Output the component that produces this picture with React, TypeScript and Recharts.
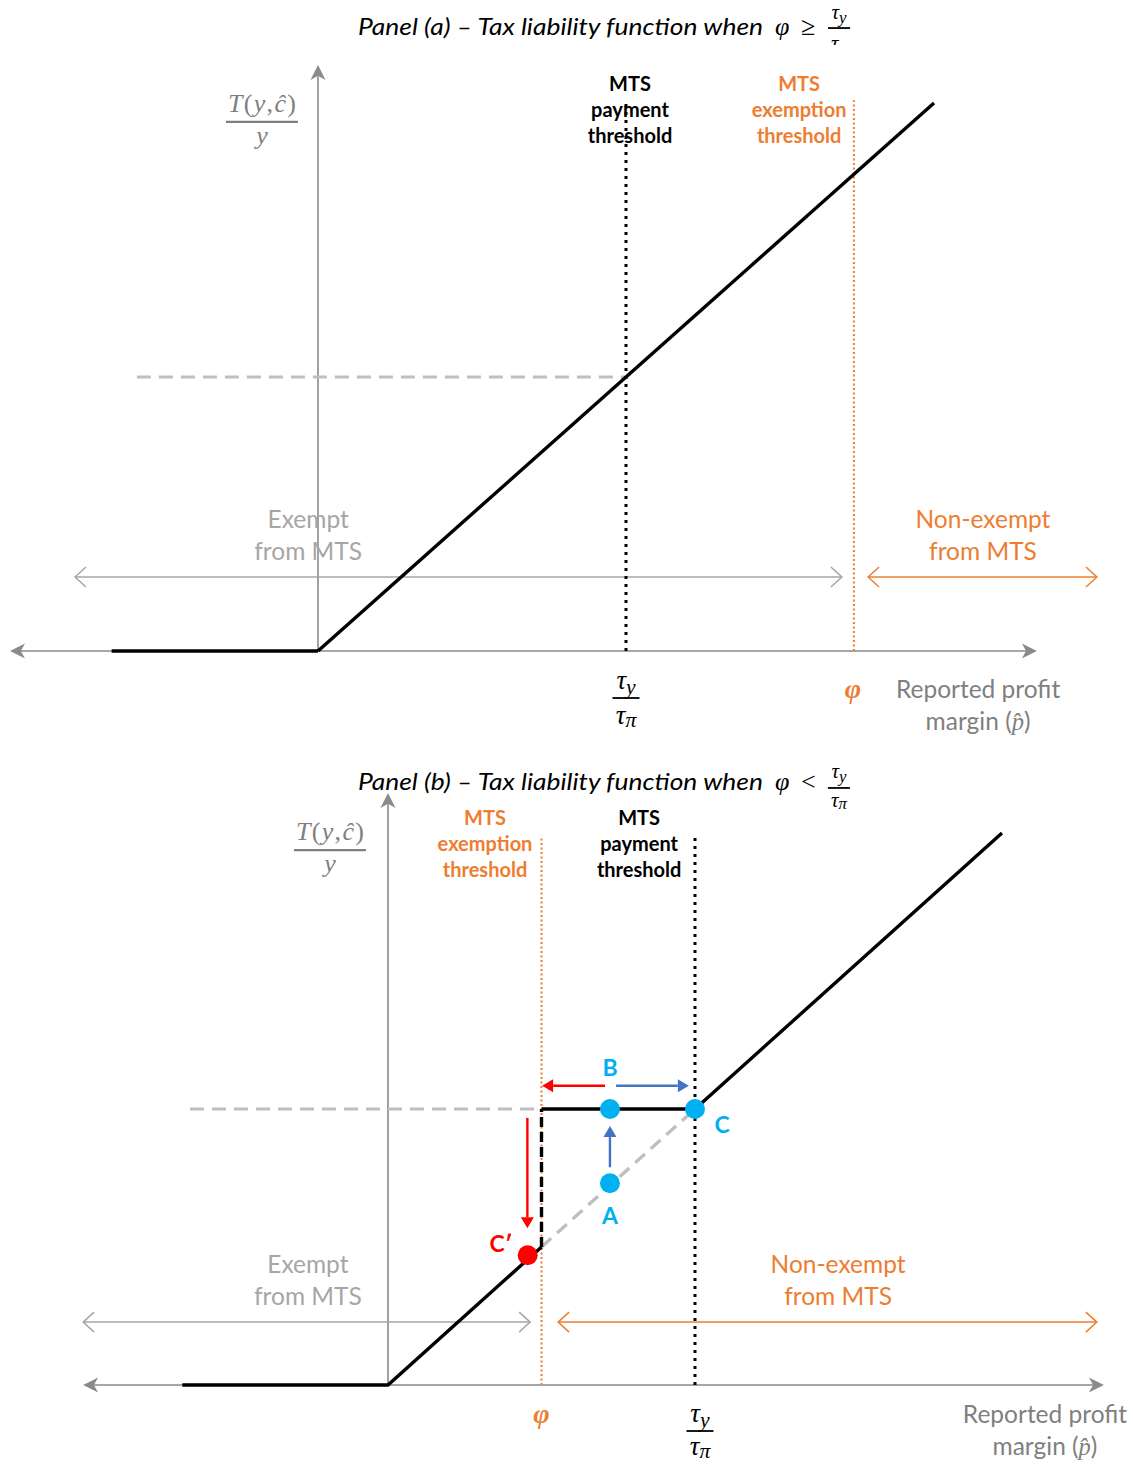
import React from 'react';
import { ComposedChart, Line, Scatter, XAxis, YAxis, ReferenceLine, ReferenceDot } from 'recharts';

// Palette
const ORANGE = '#ED7D31';
const AXIS_GRAY = '#8A8A8A';
const TEXT_GRAY = '#A6A6A6';
const LABEL_GRAY = '#7F7F7F';
const DASH_GRAY = '#BFBFBF';
const CYAN = '#00B0F0';
const BLUE = '#4472C4';
const RED = '#FF0000';

const SANS = 'Lato, "Open Sans", sans-serif';
const SERIF = '"Liberation Serif", "DejaVu Serif", serif';

// Reported profit margin is measured in units of τy/τπ, so the payment threshold sits at 1
const PAYMENT_THRESHOLD = 1;
const EXEMPTION_A = 1.74; // panel (a): φ above τy/τπ
const EXEMPTION_B = 0.5; // panel (b): φ below τy/τπ

// Panel (a): tax liability over reported margin
const A_FLAT_X = [-0.67, 0];
const A_FLAT_Y = [0, 0];
const A_RISE_X = [0, 2];
const A_RISE_Y = [0, 2];

// Panel (b): schedule with the exemption notch
const B_LOW_X = [-0.67, 0, 0.5];
const B_LOW_Y = [0, 0, 0.5];
const B_JUMP_X = [0.5, 0.5];
const B_JUMP_Y = [0.5, 1];
const B_HIGH_X = [0.5, 1, 2];
const B_HIGH_Y = [1, 1, 2];
const B_GHOST_X = [0.5, 1];
const B_GHOST_Y = [0.5, 1];

// Firm positions in panel (b)
const FIRM_NAMES = ['A', 'B', 'C', 'C′'];
const FIRM_X = [0.723, 0.723, 1, 0.455];
const FIRM_Y = [0.731, 1, 1, 0.47];
const FIRM_COLORS = [CYAN, CYAN, CYAN, RED];

// Axis windows
const A_X_DOMAIN = [-1.0325, 2.6461];
const A_Y_DOMAIN = [-0.3248, 2.3759];
const B_X_DOMAIN = [-1.2638, 2.4267];
const B_Y_DOMAIN = [-0.2971, 2.337];

const pts = (xs: number[], ys: number[]) => xs.map((x, i) => ({ x, y: ys[i] }));

type Head = 'filled' | 'open' | 'none';

const arrow =
  (color: string, width: number, start: Head, end: Head, len: number, half: number, notch = 0.72) =>
  (p: any) => {
    const { x1, y1, x2, y2 } = p;
    const L = Math.hypot(x2 - x1, y2 - y1) || 1;
    const ux = (x2 - x1) / L;
    const uy = (y2 - y1) / L;
    let sx = x1, sy = y1, ex = x2, ey = y2;
    const heads: React.ReactNode[] = [];
    const headAt = (tx: number, ty: number, dx: number, dy: number, kind: Head, k: string) => {
      const bx = tx - dx * len, by = ty - dy * len;
      const nx = -dy, ny = dx;
      const a = `${bx + nx * half},${by + ny * half}`;
      const b = `${bx - nx * half},${by - ny * half}`;
      if (kind === 'filled') {
        const mx = tx - dx * len * notch, my = ty - dy * len * notch;
        return <polygon key={k} points={`${tx},${ty} ${a} ${mx},${my} ${b}`} fill={color} />;
      }
      return (
        <polyline key={k} points={`${a} ${tx},${ty} ${b}`} fill="none" stroke={color} strokeWidth={width} />
      );
    };
    if (end !== 'none') {
      heads.push(headAt(x2, y2, ux, uy, end, 'e'));
      if (end === 'filled') { ex = x2 - ux * len * notch; ey = y2 - uy * len * notch; }
    }
    if (start !== 'none') {
      heads.push(headAt(x1, y1, -ux, -uy, start, 's'));
      if (start === 'filled') { sx = x1 + ux * len * notch; sy = y1 + uy * len * notch; }
    }
    return (
      <g>
        <line x1={sx} y1={sy} x2={ex} y2={ey} stroke={color} strokeWidth={width} />
        {heads}
      </g>
    );
  };

const seg = (key: string, x1: number, y1: number, x2: number, y2: number, shape: any) => (
  <ReferenceLine
    key={key}
    segment={[{ x: x1, y: y1 }, { x: x2, y: y2 }]}
    ifOverflow="visible"
    shape={shape}
  />
);

const note = (key: string, x: number, y: number, content: React.ReactNode) => (
  <ReferenceDot
    key={key}
    x={x}
    y={y}
    r={1}
    fill="none"
    stroke="none"
    ifOverflow="visible"
    shape={(p: any) => <g transform={`translate(${p.cx},${p.cy})`}>{content}</g>}
  />
);

const tauFrac = (cx: number, numY: number, barY: number, denY: number, fs: number, w: number, clipId?: string) => (
  <g>
    <text x={cx} y={numY} textAnchor="middle" fontFamily={SERIF} fontStyle="italic" fontSize={fs} fill="#000">
      τ<tspan fontSize={fs * 0.8} dy={fs * 0.18}>y</tspan>
    </text>
    <line x1={cx - w / 2} x2={cx + w / 2} y1={barY} y2={barY} stroke="#000" strokeWidth={1.8} />
    <text
      x={cx}
      y={denY}
      textAnchor="middle"
      fontFamily={SERIF}
      fontStyle="italic"
      fontSize={fs}
      fill="#000"
      clipPath={clipId ? `url(#${clipId})` : undefined}
    >
      τ<tspan fontSize={fs * 0.8} dy={fs * 0.12}>π</tspan>
    </text>
  </g>
);

const lines = (items: string[], dy: number, props: any) => (
  <text textAnchor="middle" {...props}>
    {items.map((t, i) => (
      <tspan key={i} x={0} dy={i === 0 ? 0 : dy}>
        {t}
      </tspan>
    ))}
  </text>
);

const title = (panel: string, rel: string, frac: number[], clip: boolean) => (
  <g>
    {clip && (
      <defs>
        <clipPath id="titleDenClip">
          <rect x={400} y={-40} width={200} height={50} />
        </clipPath>
      </defs>
    )}
    <text
      x={0}
      y={0}
      fontFamily={SANS}
      fontStyle="italic"
      fontSize={23.5}
      fill="#000"
      textLength={405}
      lengthAdjust="spacingAndGlyphs"
    >
      {`Panel (${panel}) – Tax liability function when`}
    </text>
    <text x={417} y={0} fontFamily={SERIF} fontStyle="italic" fontSize={26} fill="#000">
      φ
    </text>
    <text x={443} y={0} fontFamily={SERIF} fontSize={26} fill="#000">
      {rel}
    </text>
    {tauFrac(481, frac[0], frac[1], frac[2], 21, 22, clip ? 'titleDenClip' : undefined)}
  </g>
);

const yLabel = (
  <g>
    <text
      x={0}
      y={-10}
      textAnchor="middle"
      fontFamily={SERIF}
      fontSize={26}
      fill={LABEL_GRAY}
      textLength={68}
      lengthAdjust="spacing"
    >
      <tspan fontStyle="italic">T</tspan>(<tspan fontStyle="italic">y</tspan>,<tspan fontStyle="italic">ĉ</tspan>)
    </text>
    <line x1={-36} x2={36} y1={0} y2={0} stroke={LABEL_GRAY} strokeWidth={2.2} />
    <text x={0} y={22} textAnchor="middle" fontFamily={SERIF} fontStyle="italic" fontSize={26} fill={LABEL_GRAY}>
      y
    </text>
  </g>
);

const xLabel = (
  <g>
    {lines(['Reported profit'], 32, { fontFamily: SANS, fontSize: 24.5, fill: LABEL_GRAY })}
    <text x={0} y={32} textAnchor="middle" fontFamily={SANS} fontSize={24.5} fill={LABEL_GRAY}>
      margin (<tspan fontFamily={SERIF} fontStyle="italic">p̂</tspan>)
    </text>
  </g>
);

const phiMark = (
  <text x={0} y={0} textAnchor="middle" fontFamily={SERIF} fontStyle="italic" fontWeight="bold" fontSize={28} fill={ORANGE}>
    φ
  </text>
);

const thresholdText = (word: string, color: string) =>
  lines(['MTS', word, 'threshold'], 26, { fontFamily: SANS, fontWeight: 'bold', fontSize: 20, fill: color });

const zoneText = (first: string, color: string) =>
  lines([first, 'from MTS'], 32, { fontFamily: SANS, fontSize: 24.5, fill: color });

const firmText = (name: string, color: string) => (
  <text x={0} y={0} textAnchor="middle" fontFamily={SANS} fontWeight="bold" fontSize={23} fill={color}>
    {name}
  </text>
);

const axisArrow = arrow(AXIS_GRAY, 1.6, 'none', 'filled', 15, 7.5);
const axisDouble = arrow(AXIS_GRAY, 1.6, 'filled', 'filled', 15, 7.5);
const grayZone = arrow(TEXT_GRAY, 1.5, 'open', 'open', 11, 10);
const orangeZone = arrow(ORANGE, 1.5, 'open', 'open', 11, 10);
const redArrow = arrow(RED, 2.4, 'none', 'filled', 11, 6.5, 1);
const blueArrow = arrow(BLUE, 2.4, 'none', 'filled', 11, 6.5, 1);

const dotted = (key: string, x: number, top: number, color: string, w: number, dash: string) => (
  <ReferenceLine
    key={key}
    segment={[{ x, y: 0 }, { x, y: top }]}
    stroke={color}
    strokeWidth={w}
    strokeDasharray={dash}
    ifOverflow="visible"
  />
);

const solid = (key: string, data: { x: number; y: number }[], color: string, dash?: string) => (
  <Line
    key={key}
    data={data}
    dataKey="y"
    type="linear"
    stroke={color}
    strokeWidth={3.4}
    strokeDasharray={dash}
    dot={false}
    activeDot={false}
    legendType="none"
    isAnimationActive={false}
  />
);

function PanelA() {
  return (
    <ComposedChart width={1133} height={740} margin={{ top: 0, right: 0, bottom: 0, left: 0 }}>
      <XAxis type="number" dataKey="x" domain={A_X_DOMAIN} hide allowDataOverflow />
      <YAxis type="number" dataKey="y" domain={A_Y_DOMAIN} hide allowDataOverflow />
      {seg('ax-x', -1.0, 0, 2.334, 0, axisDouble)}
      {seg('ax-y', 0, 0, 0, 2.139, axisArrow)}
      {seg('zone-ex', -0.789, 0.27, 1.701, 0.27, grayZone)}
      {seg('zone-nx', 1.786, 0.27, 2.529, 0.27, orangeZone)}
      <ReferenceLine
        segment={[{ x: -0.588, y: 1 }, { x: PAYMENT_THRESHOLD, y: 1 }]}
        stroke={DASH_GRAY}
        strokeWidth={3.2}
        strokeDasharray="14 8"
        ifOverflow="visible"
      />
      {dotted('pay', PAYMENT_THRESHOLD, 2.0, '#000', 3, '3 5')}
      {dotted('exm', EXEMPTION_A, 2.01, ORANGE, 2, '2 2.5')}
      {solid('flat', pts(A_FLAT_X, A_FLAT_Y), '#000')}
      {solid('rise', pts(A_RISE_X, A_RISE_Y), '#000')}
      {note('title', 0.13, 2.248, title('a', '≥', [-16, -7, 15], true))}
      {note('ylab', -0.182, 1.931, yLabel)}
      {note('pay-t', 1.013, 2.044, thresholdText('payment', '#000'))}
      {note('exm-t', 1.562, 2.044, thresholdText('exemption', ORANGE))}
      {note('zone-ex-t', -0.032, 0.449, zoneText('Exempt', TEXT_GRAY))}
      {note('zone-nx-t', 2.159, 0.449, zoneText('Non-exempt', ORANGE))}
      {note('tau', PAYMENT_THRESHOLD, 0, tauFrac(0, 38, 47, 73, 27, 27))}
      {note('phi', EXEMPTION_A, 0, <g transform="translate(-1,47)">{phiMark}</g>)}
      {note('xlab', 2.143, -0.172, xLabel)}
    </ComposedChart>
  );
}

function PanelB() {
  const firms = FIRM_NAMES.map((name, i) => ({ name, x: FIRM_X[i], y: FIRM_Y[i], color: FIRM_COLORS[i] }));
  return (
    <ComposedChart width={1133} height={727} margin={{ top: 0, right: 0, bottom: 0, left: 0 }}>
      <XAxis type="number" dataKey="x" domain={B_X_DOMAIN} hide allowDataOverflow />
      <YAxis type="number" dataKey="y" domain={B_Y_DOMAIN} hide allowDataOverflow />
      {seg('ax-x', -0.993, 0, 2.332, 0, axisDouble)}
      {seg('ax-y', 0, 0, 0, 2.145, axisArrow)}
      {seg('zone-ex', -0.993, 0.228, 0.463, 0.228, grayZone)}
      {seg('zone-nx', 0.554, 0.228, 2.309, 0.228, orangeZone)}
      <ReferenceLine
        segment={[{ x: -0.645, y: 1 }, { x: EXEMPTION_B, y: 1 }]}
        stroke={DASH_GRAY}
        strokeWidth={3.2}
        strokeDasharray="14 8"
        ifOverflow="visible"
      />
      {dotted('exm', EXEMPTION_B, 1.99, ORANGE, 2, '2 2.5')}
      {dotted('pay', PAYMENT_THRESHOLD, 2.0, '#000', 3, '3 5')}
      {solid('ghost', pts(B_GHOST_X, B_GHOST_Y), DASH_GRAY, '13 8')}
      {solid('low', pts(B_LOW_X, B_LOW_Y), '#000')}
      {solid('jump', pts(B_JUMP_X, B_JUMP_Y), '#000', '10 5')}
      {solid('high', pts(B_HIGH_X, B_HIGH_Y), '#000')}
      {seg('mv-left', 0.707, 1.084, 0.502, 1.084, redArrow)}
      {seg('mv-right', 0.743, 1.084, 0.98, 1.084, blueArrow)}
      {seg('mv-up', 0.723, 0.789, 0.723, 0.938, blueArrow)}
      {seg('mv-down', 0.454, 0.968, 0.454, 0.568, redArrow)}
      <Scatter
        data={firms}
        dataKey="y"
        isAnimationActive={false}
        legendType="none"
        shape={(p: any) => <circle cx={p.cx} cy={p.cy} r={10} fill={p.payload.color} />}
      />
      {note('title', -0.098, 2.156, title('b', '<', [-12, -2, 17], false))}
      {note('ylab', -0.189, 1.938, yLabel)}
      {note('exm-t', 0.316, 2.029, thresholdText('exemption', ORANGE))}
      {note('pay-t', 0.818, 2.029, thresholdText('payment', '#000'))}
      {note('lab-B', 0.723, 1.12, firmText('B', CYAN))}
      {note('lab-C', 1.088, 0.913, firmText('C', CYAN))}
      {note('lab-A', 0.723, 0.583, firmText('A', CYAN))}
      {note('lab-C2', 0.368, 0.482, firmText('C′', RED))}
      {note('zone-ex-t', -0.261, 0.406, zoneText('Exempt', TEXT_GRAY))}
      {note('zone-nx-t', 1.466, 0.406, zoneText('Non-exempt', ORANGE))}
      {note('phi', EXEMPTION_B, 0, <g transform="translate(0,38)">{phiMark}</g>)}
      {note('tau', PAYMENT_THRESHOLD, 0, tauFrac(5, 37, 46, 70, 27, 27))}
      {note('xlab', 2.14, -0.138, xLabel)}
    </ComposedChart>
  );
}

export default function App() {
  return (
    <div style={{ position: 'absolute', left: 0, top: 0, width: 1133, height: 1467, background: '#fff' }}>
      <div style={{ position: 'absolute', left: 0, top: 0 }}>
        <PanelA />
      </div>
      <div style={{ position: 'absolute', left: 0, top: 740 }}>
        <PanelB />
      </div>
    </div>
  );
}
